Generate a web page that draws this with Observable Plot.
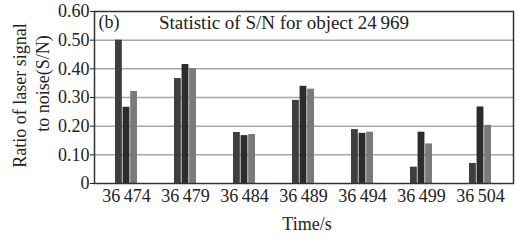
<!DOCTYPE html>
<html>
<head>
<meta charset="utf-8">
<script src="https://cdn.jsdelivr.net/npm/d3@7"></script>
<script src="https://cdn.jsdelivr.net/npm/@observablehq/plot@0.6"></script>
<style>
  html, body { margin: 0; padding: 0; background: #fff; }
</style>
</head>
<body>
<div id="chart"></div>
<script>
const times = ["36\u2009474", "36\u2009479", "36\u2009484", "36\u2009489", "36\u2009494", "36\u2009499", "36\u2009504"];
const series1 = [0.500, 0.366, 0.178, 0.290, 0.188, 0.057, 0.070];
const series2 = [0.266, 0.415, 0.167, 0.339, 0.175, 0.179, 0.267];
const series3 = [0.321, 0.400, 0.171, 0.329, 0.179, 0.138, 0.203];
const yTicks = [0, 0.1, 0.2, 0.3, 0.4, 0.5, 0.6];
const gridValues = [0.1, 0.2, 0.3, 0.4, 0.5];
const titleText = "Statistic of S/N for object 24\u2009969";
const panelLabel = "(b)";
const yLabel1 = "Ratio of laser signal";
const yLabel2 = "to noise(S/N)";
const xLabel = "Time/s";

const colors = ["#3e3e3e", "#2c2c2c", "#7a7a7a"];
const rows = (vals) => times.map((t, i) => ({time: t, value: vals[i]}));

const width = 518, height = 240;
const mL = 94, mR = 5;
const step = (width - mL - mR) / times.length;
const pad = 0.62;
const bw = step * (1 - pad) / 3;

const font = "'Liberation Serif', 'Times New Roman', serif";

const chart = Plot.plot({
  width, height,
  marginLeft: mL, marginRight: mR, marginTop: 11, marginBottom: 57,
  style: {fontFamily: font, fontSize: "18px", color: "#222", background: "#fff"},
  x: {domain: times, paddingInner: pad, paddingOuter: pad / 2, label: null, tickSize: 0, tickPadding: 6},
  y: {domain: [0, 0.6], ticks: yTicks, tickFormat: d => d === 0 ? "0" : d.toFixed(2), tickSize: 4, tickPadding: 1, label: null},
  marks: [
    Plot.ruleY(gridValues, {stroke: "#a8a8a8", strokeWidth: 1.5}),
    Plot.barY(rows(series1), {x: "time", y: "value", fill: colors[0], insetLeft: 0, insetRight: 2 * bw}),
    Plot.barY(rows(series2), {x: "time", y: "value", fill: colors[1], insetLeft: bw, insetRight: bw}),
    Plot.barY(rows(series3), {x: "time", y: "value", fill: colors[2], insetLeft: 2 * bw, insetRight: 0}),
    Plot.frame({stroke: "#333", strokeWidth: 1.5}),
    Plot.text([panelLabel], {frameAnchor: "top-left", dx: 4, dy: 4, textAnchor: "start", lineAnchor: "top", fontSize: 18, fill: "#222"}),
    Plot.text([titleText], {frameAnchor: "top", dx: -20, dy: 4, textAnchor: "middle", lineAnchor: "top", fontSize: 19, fill: "#222", letterSpacing: "0.5px"}),
    Plot.text([yLabel1], {frameAnchor: "left", textAnchor: "middle", rotate: -90, dx: -74, dy: -2, fontSize: 18, fill: "#222", letterSpacing: "1.4px"}),
    Plot.text([yLabel2], {frameAnchor: "left", textAnchor: "middle", rotate: -90, dx: -51, dy: -14, fontSize: 18, fill: "#222", letterSpacing: "0.8px"}),
    Plot.text([xLabel], {frameAnchor: "bottom", dx: 3, dy: 46, textAnchor: "middle", fontSize: 18, fill: "#222"})
  ]
});
document.getElementById("chart").appendChild(chart);
</script>
</body>
</html>
